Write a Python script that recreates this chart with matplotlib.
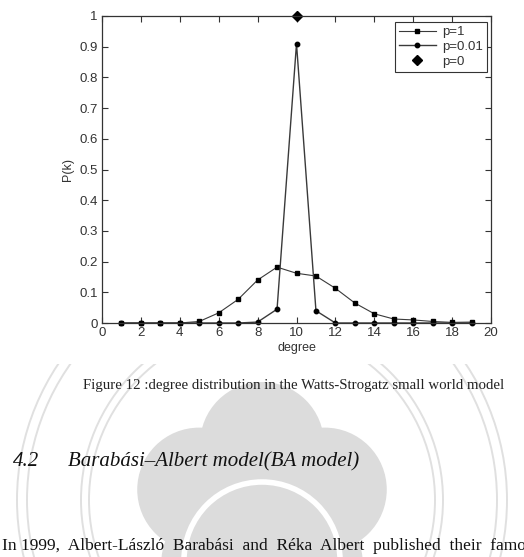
import numpy as np
import matplotlib.pyplot as plt
from matplotlib.patches import Circle, Rectangle

# degree distribution values
degree = [1, 2, 3, 4, 5, 6, 7, 8, 9, 10, 11, 12, 13, 14, 15, 16, 17, 18, 19]
pk_p1 = [0, 0, 0, 0, 0.005, 0.033, 0.077, 0.14, 0.182, 0.162, 0.153, 0.113,
         0.065, 0.03, 0.013, 0.01, 0.005, 0.002, 0.003]
pk_p001 = [0, 0, 0, 0, 0, 0, 0, 0.003, 0.045, 0.91, 0.04, 0,
           0, 0, 0, 0, 0, 0, 0]
degree_p0 = [10]
pk_p0 = [1.0]

xticks = list(range(0, 21, 2))
yticks = [0, 0.1, 0.2, 0.3, 0.4, 0.5, 0.6, 0.7, 0.8, 0.9, 1]
ytick_labels = ["0", "0.1", "0.2", "0.3", "0.4", "0.5", "0.6", "0.7", "0.8", "0.9", "1"]

W, H = 524, 557
fig = plt.figure(figsize=(W / 100, H / 100), dpi=100)

# page background with the faint watermark
bg = fig.add_axes([0, 0, 1, 1], zorder=0)
bg.set_xlim(0, W)
bg.set_ylim(H, 0)
bg.axis("off")
wm = "#dcdcdc"
cx, cy = 262, 510
for r in (245, 235, 181, 173):
    bg.add_patch(Circle((cx, 500), r, fill=False, ec="#e0e0e0", lw=1.4))
for ang in (90, 162, 18, 234, 306):
    a = np.deg2rad(ang)
    bg.add_patch(Circle((cx + 66 * np.cos(a), cy - 66 * np.sin(a)), 62,
                        fc=wm, ec="none"))
bg.add_patch(Circle((cx, cy), 80, fc=wm, ec="none"))
bg.add_patch(Circle((cx, 560), 78, fc="none", ec="white", lw=4))
# the pasted chart image is opaque and hides the watermark
bg.add_patch(Rectangle((0, 0), W, 364, fc="white", ec="none"))

serif = "Liberation Serif"
bg.text(83, 386, "Figure 12 :degree distribution in the Watts-Strogatz small world model",
        family=serif, fontsize=10.7, color="#222222", va="center", ha="left")
bg.text(13, 462, "4.2", family=serif, style="italic", fontsize=15,
        color="#111111", va="center", ha="left")
bg.text(68, 462, "Barabási–Albert model(BA model)", family=serif, style="italic",
        fontsize=15, color="#111111", va="center", ha="left")
bg.text(2, 546, "In 1999,  Albert-László  Barabási  and  Réka  Albert  published  their  famous",
        family=serif, fontsize=12.5, color="#111111", va="center", ha="left")

# the chart itself
ax = fig.add_axes([102 / W, 1 - 323 / H, (491 - 102) / W, (323 - 16) / H], zorder=1)
ax.set_facecolor("none")
lc = "#3a3a3a"
ax.plot(degree, pk_p1, color=lc, lw=0.8, marker="s", ms=3.5, mfc="black",
        mec="black", label="p=1", clip_on=False)
ax.plot(degree, pk_p001, color=lc, lw=1.0, marker="o", ms=3.2, mfc="black",
        mec="black", label="p=0.01", clip_on=False)
ax.plot(degree_p0, pk_p0, ls="none", marker="D", ms=5, mfc="black",
        mec="black", label="p=0", clip_on=False)

ax.set_xlim(0, 20)
ax.set_ylim(0, 1)
ax.set_xticks(xticks)
ax.set_yticks(yticks)
ax.set_yticklabels(ytick_labels)
ax.tick_params(direction="in", top=True, right=True, length=4, width=0.8,
               labelsize=9.5, colors="#333333", pad=3)
for s in ax.spines.values():
    s.set_color("#333333")
    s.set_linewidth(0.9)
for lab in ax.get_xticklabels() + ax.get_yticklabels():
    lab.set_family("Liberation Sans")
ax.set_xlabel("degree", family="Liberation Sans", fontsize=9, color="#333333", labelpad=2)
ax.set_ylabel("P(k)", family="Liberation Sans", fontsize=9, color="#333333", labelpad=4)

leg = ax.legend(loc="upper right", bbox_to_anchor=(487 / W, 1 - 22 / H),
                bbox_transform=fig.transFigure, fancybox=False, framealpha=1,
                edgecolor="#333333", prop={"family": "Liberation Sans", "size": 9.5},
                handlelength=2.8, borderpad=0.3, labelspacing=0.2,
                handletextpad=0.5, borderaxespad=0)
leg.get_frame().set_linewidth(0.8)
for t in leg.get_texts():
    t.set_color("#333333")

fig.savefig("out.png", dpi=100)
